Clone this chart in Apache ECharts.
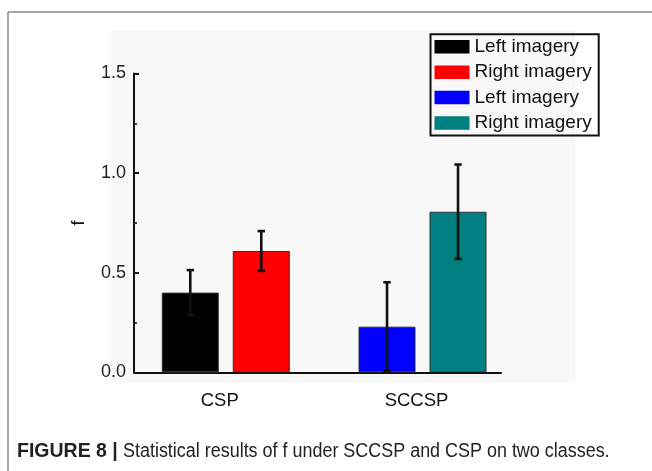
<!DOCTYPE html>
<html>
<head>
<meta charset="utf-8">
<script src="https://cdn.jsdelivr.net/npm/echarts@6/dist/echarts.min.js"></script>
<style>html,body{margin:0;padding:0;background:#fff;}#c{width:652px;height:471px;}</style>
</head>
<body>
<div id="c"></div>
<script>
const categories = ['CSP', 'SCCSP'];
const leftMeans = [0.40, 0.229];
const leftErrs = [0.113, 0.223];
const rightMeans = [0.609, 0.806];
const rightErrs = [0.10, 0.237];
const yTicks = [0, 0.5, 1.0, 1.5];
const captionLabel = 'FIGURE 8 |';
const caption = 'Statistical results of f under SCCSP and CSP on two classes.';

const BAR_W = 57, BAR_GAP = 14;
const chart = echarts.init(document.getElementById('c'), null, {renderer: 'canvas'});

function errData(means, errs, side) {
  return means.map((m, i) => [i, m, errs[i], side]);
}

function renderErr(params, api) {
  const ci = api.value(0), m = api.value(1), e = api.value(2), side = api.value(3);
  const off = side * (BAR_W + BAR_GAP) / 2;
  const top = api.coord([ci, m + e]);
  const bot = api.coord([ci, Math.max(0, m - e)]);
  const x = top[0] + off;
  const cap = 3.7;
  const st = {stroke: '#111', lineWidth: 2.6};
  return {type: 'group', children: [
    {type: 'line', shape: {x1: x, y1: top[1], x2: x, y2: bot[1]}, style: st},
    {type: 'line', shape: {x1: x - cap, y1: top[1], x2: x + cap, y2: top[1]}, style: st},
    {type: 'line', shape: {x1: x - cap, y1: bot[1], x2: x + cap, y2: bot[1]}, style: st}
  ]};
}

const fontFam = 'Liberation Sans, Arial, sans-serif';

chart.setOption({
  backgroundColor: '#fff',
  animation: false,
  graphic: [
    {type: 'rect', z: -10, shape: {x: 111, y: 30, width: 464, height: 352}, style: {fill: '#f8f8f8'}},
    {type: 'line', shape: {x1: 8, y1: 12, x2: 652, y2: 12}, style: {stroke: '#8a8a8a', lineWidth: 1.5}},
    {type: 'line', shape: {x1: 8, y1: 12, x2: 8, y2: 471}, style: {stroke: '#8a8a8a', lineWidth: 1.5}},
    {type: 'text', x: 17, y: 452, style: {
      text: captionLabel, fontFamily: fontFam, fontSize: 19.5, fontWeight: 'bold',
      fill: '#222', verticalAlign: 'middle'}},
    {type: 'text', x: 123, y: 452, scaleX: 0.92, style: {
      text: caption, fontFamily: fontFam, fontSize: 19.5,
      fill: '#222', verticalAlign: 'middle'}}
  ],
  legend: {
    orient: 'vertical', left: 430.5, top: 34.3,
    padding: [3, 7, 3, 4],
    borderColor: '#111', borderWidth: 2,
    icon: 'rect',
    itemWidth: 35, itemHeight: 13.5, itemGap: 6.4,
    itemStyle: {borderWidth: 0},
    data: ['Left imagery (CSP)', 'Right imagery (CSP)', 'Left imagery (SCCSP)', 'Right imagery (SCCSP)'],
    formatter: n => n.split(' (')[0],
    textStyle: {fontFamily: fontFam, fontSize: 19, lineHeight: 19, color: '#111'},
    selectedMode: false
  },
  grid: [
    {left: 127.4, right: 131.1, top: 73.5, bottom: 98.7},
    {left: 134, right: 151, top: 73.5, bottom: 98.7}
  ],
  xAxis: [
    {type: 'category', gridIndex: 0, data: categories,
      axisLine: {show: false}, axisTick: {show: false}, splitLine: {show: false},
      axisLabel: {margin: 19, color: '#111', fontFamily: fontFam, fontSize: 18.5,
        formatter: v => '{a|' + v + '}',
        rich: {a: {padding: [0, 12, 0, 0], fontFamily: fontFam, fontSize: 18.5, color: '#111'}}}},
    {type: 'category', gridIndex: 1, data: categories,
      axisLine: {show: true, lineStyle: {color: '#111', width: 2}},
      axisTick: {show: false}, axisLabel: {show: false}, splitLine: {show: false}}
  ],
  yAxis: [
    {type: 'value', gridIndex: 0, min: 0, max: 1.5, show: false},
    {type: 'value', gridIndex: 1, min: 0, max: 1.5, interval: 0.5,
      name: 'f', nameLocation: 'middle', nameGap: 46, nameRotate: 90,
      nameTextStyle: {fontFamily: fontFam, fontSize: 18, color: '#111'},
      axisLine: {show: true, lineStyle: {color: '#111', width: 2}},
      axisTick: {show: true, inside: true, length: 5, lineStyle: {color: '#111', width: 2}},
      minorTick: {show: true, splitNumber: 2, length: 3, lineStyle: {color: '#111', width: 1.5}},
      splitLine: {show: false},
      axisLabel: {margin: 8, color: '#222', fontFamily: fontFam, fontSize: 18,
        formatter: v => yTicks.indexOf(v) >= 0 ? v.toFixed(1) : ''}}
  ],
  series: [
    {name: 'Left imagery (CSP)', type: 'bar', stack: 'L', xAxisIndex: 0, yAxisIndex: 0,
      barWidth: BAR_W, barGap: (BAR_GAP / BAR_W * 100) + '%',
      data: [leftMeans[0], '-'], itemStyle: {color: '#000000', borderColor: '#333', borderWidth: 1}},
    {name: 'Right imagery (CSP)', type: 'bar', stack: 'R', xAxisIndex: 0, yAxisIndex: 0,
      barWidth: BAR_W, barGap: (BAR_GAP / BAR_W * 100) + '%',
      data: [rightMeans[0], '-'], itemStyle: {color: '#ff0000', borderColor: '#333', borderWidth: 1}},
    {name: 'Left imagery (SCCSP)', type: 'bar', stack: 'L', xAxisIndex: 0, yAxisIndex: 0,
      barWidth: BAR_W, barGap: (BAR_GAP / BAR_W * 100) + '%',
      data: ['-', leftMeans[1]], itemStyle: {color: '#0000ff', borderColor: '#333', borderWidth: 1}},
    {name: 'Right imagery (SCCSP)', type: 'bar', stack: 'R', xAxisIndex: 0, yAxisIndex: 0,
      barWidth: BAR_W, barGap: (BAR_GAP / BAR_W * 100) + '%',
      data: ['-', rightMeans[1]], itemStyle: {color: '#008080', borderColor: '#333', borderWidth: 1}},
    {name: 'errL', type: 'custom', xAxisIndex: 0, yAxisIndex: 0, z: 5,
      renderItem: renderErr, data: errData(leftMeans, leftErrs, -1)},
    {name: 'errR', type: 'custom', xAxisIndex: 0, yAxisIndex: 0, z: 5,
      renderItem: renderErr, data: errData(rightMeans, rightErrs, 1)}
  ]
});
</script>
</body>
</html>
